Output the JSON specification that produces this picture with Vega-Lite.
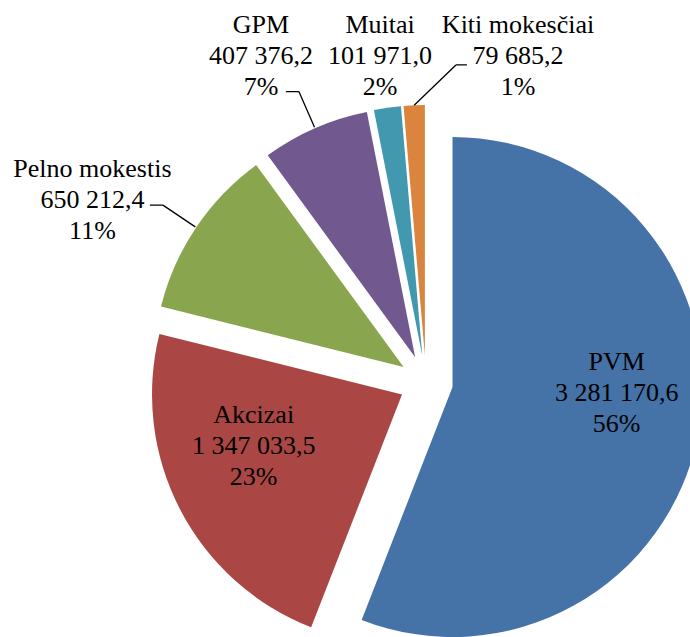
{
  "$schema": "https://vega.github.io/schema/vega-lite/v6.json",
  "width": 528,
  "height": 510,
  "autosize": {"type": "none"},
  "padding": {"left": 162, "top": 127, "right": 0, "bottom": 0},
  "background": "white",
  "config": {"view": {"stroke": null}},
  "data": {
    "values": [
      {"category": "PVM", "value": 3281170.6, "label": "PVM\n3 281 170,6\n56%"},
      {"category": "Akcizai", "value": 1347033.5, "label": "Akcizai\n1 347 033,5\n23%"},
      {"category": "Pelno mokestis", "value": 650212.4, "label": "Pelno mokestis\n650 212,4\n11%"},
      {"category": "GPM", "value": 407376.2, "label": "GPM\n407 376,2\n7%"},
      {"category": "Muitai", "value": 101971.0, "label": "Muitai\n101 971,0\n2%"},
      {"category": "Kiti mokesčiai", "value": 79685.2, "label": "Kiti mokesčiai\n79 685,2\n1%"}
    ]
  },
  "transform": [{"stack": "value", "groupby": [], "as": ["s", "e"]}],
  "layer": [
    {
      "mark": {
        "type": "arc",
        "radius": 250,
        "xOffset": {"expr": "27*sin(scale('theta',(datum.s+datum.e)/2))"},
        "yOffset": {"expr": "-27*cos(scale('theta',(datum.s+datum.e)/2))"}
      },
      "encoding": {
        "theta": {"field": "e", "type": "quantitative", "scale": {"zero": true, "nice": false}},
        "theta2": {"field": "s"},
        "color": {
          "field": "category",
          "type": "nominal",
          "scale": {
            "domain": ["PVM", "Akcizai", "Pelno mokestis", "GPM", "Muitai", "Kiti mokesčiai"],
            "range": ["#4572A7", "#AA4643", "#89A54E", "#71588F", "#4198AF", "#DB843D"]
          },
          "legend": null
        }
      }
    },
    {
      "transform": [{"filter": {"field": "category", "oneOf": ["Pelno mokestis", "GPM"]}}],
      "mark": {
        "type": "arc",
        "filled": false,
        "color": "#000000",
        "strokeWidth": 1.3,
        "theta": {"expr": "scale('theta',(datum.s+datum.e)/2)"},
        "theta2": {"expr": "scale('theta',(datum.s+datum.e)/2)"},
        "radius": 290,
        "radius2": 251,
        "xOffset": {"expr": "27*sin(scale('theta',(datum.s+datum.e)/2))"},
        "yOffset": {"expr": "-27*cos(scale('theta',(datum.s+datum.e)/2))"}
      },
      "encoding": {}
    },
    {
      "transform": [{"filter": {"field": "category", "oneOf": ["Pelno mokestis", "GPM"]}}],
      "mark": {
        "type": "arc",
        "filled": false,
        "color": "#000000",
        "strokeWidth": 1.3,
        "theta": {"expr": "1.5*PI"},
        "theta2": {"expr": "1.5*PI"},
        "radius": 13,
        "radius2": 0,
        "xOffset": {"expr": "317*sin(scale('theta',(datum.s+datum.e)/2))"},
        "yOffset": {"expr": "-317*cos(scale('theta',(datum.s+datum.e)/2))"}
      },
      "encoding": {}
    },
    {
      "transform": [{"filter": {"field": "category", "equal": "Kiti mokesčiai"}}],
      "mark": {
        "type": "arc",
        "filled": false,
        "color": "#000000",
        "strokeWidth": 1.3,
        "theta": 0.803,
        "theta2": 0.803,
        "radius": 58,
        "radius2": 0,
        "xOffset": {"expr": "277*sin(scale('theta',(datum.s+datum.e)/2))"},
        "yOffset": {"expr": "-277*cos(scale('theta',(datum.s+datum.e)/2))"}
      },
      "encoding": {}
    },
    {
      "transform": [{"filter": {"field": "category", "equal": "Kiti mokesčiai"}}],
      "mark": {
        "type": "arc",
        "filled": false,
        "color": "#000000",
        "strokeWidth": 1.3,
        "theta": {"expr": "0.5*PI"},
        "theta2": {"expr": "0.5*PI"},
        "radius": 11,
        "radius2": 0,
        "xOffset": {"expr": "277*sin(scale('theta',(datum.s+datum.e)/2)) + 58*sin(0.803)"},
        "yOffset": {"expr": "-277*cos(scale('theta',(datum.s+datum.e)/2)) - 58*cos(0.803)"}
      },
      "encoding": {}
    },
    {
      "transform": [{"filter": {"field": "category", "oneOf": ["PVM", "Akcizai"]}}],
      "mark": {
        "type": "text",
        "font": "Liberation Serif",
        "fontSize": 26,
        "lineHeight": 31,
        "lineBreak": "\n",
        "align": "center",
        "baseline": "middle",
        "color": "#000000",
        "theta": {"expr": "scale('theta',(datum.s+datum.e)/2)"},
        "radius": 167,
        "dy": -56,
        "xOffset": {"expr": "27*sin(scale('theta',(datum.s+datum.e)/2))"},
        "yOffset": {"expr": "-27*cos(scale('theta',(datum.s+datum.e)/2))"}
      },
      "encoding": {"text": {"field": "label"}}
    },
    {
      "transform": [{"filter": {"field": "category", "equal": "Pelno mokestis"}}],
      "mark": {
        "type": "text",
        "font": "Liberation Serif",
        "fontSize": 26,
        "lineHeight": 31,
        "lineBreak": "\n",
        "align": "center",
        "baseline": "middle",
        "color": "#000000",
        "theta": {"expr": "scale('theta',(datum.s+datum.e)/2) - 0.100"},
        "radius": 353,
        "dy": -31,
        "xOffset": {"expr": "27*sin(scale('theta',(datum.s+datum.e)/2))"},
        "yOffset": {"expr": "-27*cos(scale('theta',(datum.s+datum.e)/2))"}
      },
      "encoding": {"text": {"field": "label"}}
    },
    {
      "transform": [{"filter": {"field": "category", "equal": "GPM"}}],
      "mark": {
        "type": "text",
        "font": "Liberation Serif",
        "fontSize": 26,
        "lineHeight": 31,
        "lineBreak": "\n",
        "align": "center",
        "baseline": "middle",
        "color": "#000000",
        "theta": {"expr": "scale('theta',(datum.s+datum.e)/2) - 0.061"},
        "radius": 338,
        "dy": -31,
        "xOffset": {"expr": "27*sin(scale('theta',(datum.s+datum.e)/2))"},
        "yOffset": {"expr": "-27*cos(scale('theta',(datum.s+datum.e)/2))"}
      },
      "encoding": {"text": {"field": "label"}}
    },
    {
      "transform": [{"filter": {"field": "category", "equal": "Muitai"}}],
      "mark": {
        "type": "text",
        "font": "Liberation Serif",
        "fontSize": 26,
        "lineHeight": 31,
        "lineBreak": "\n",
        "align": "center",
        "baseline": "middle",
        "color": "#000000",
        "theta": {"expr": "scale('theta',(datum.s+datum.e)/2)"},
        "radius": 302,
        "dy": -31,
        "xOffset": {"expr": "27*sin(scale('theta',(datum.s+datum.e)/2))"},
        "yOffset": {"expr": "-27*cos(scale('theta',(datum.s+datum.e)/2))"}
      },
      "encoding": {"text": {"field": "label"}}
    },
    {
      "transform": [{"filter": {"field": "category", "equal": "Kiti mokesčiai"}}],
      "mark": {
        "type": "text",
        "font": "Liberation Serif",
        "fontSize": 26,
        "lineHeight": 31,
        "lineBreak": "\n",
        "align": "center",
        "baseline": "middle",
        "color": "#000000",
        "theta": {"expr": "scale('theta',(datum.s+datum.e)/2) + 0.345"},
        "radius": 313,
        "dy": -31,
        "xOffset": {"expr": "27*sin(scale('theta',(datum.s+datum.e)/2))"},
        "yOffset": {"expr": "-27*cos(scale('theta',(datum.s+datum.e)/2))"}
      },
      "encoding": {"text": {"field": "label"}}
    }
  ]
}
